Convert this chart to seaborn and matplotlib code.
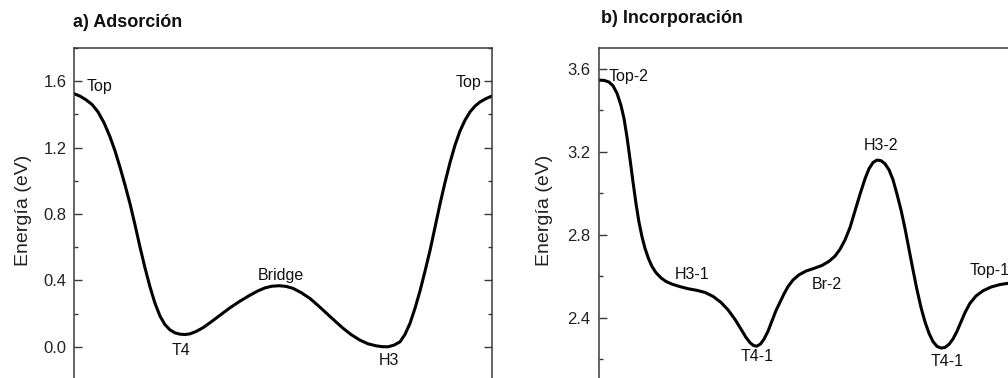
import matplotlib
matplotlib.use("Agg")
import matplotlib.pyplot as plt
from matplotlib.ticker import MultipleLocator, FormatStrFormatter
import seaborn as sns
import pandas as pd

# ---- Panel a) Adsorción: reaction coordinate (%) vs energy (eV) ----
ads_x = [0.0, 1.44, 2.87, 4.31, 5.75, 7.18, 8.62, 9.82, 11.01, 12.21,
         13.41, 14.60, 15.80, 17.00, 18.19, 19.39, 20.59, 21.79, 22.98,
         24.18, 25.38, 26.57, 27.77, 29.21, 30.88, 32.56, 34.95, 37.35,
         39.74, 42.14, 44.05, 45.73, 47.40, 49.08, 50.75, 52.43, 54.35,
         56.50, 58.42, 60.50, 62.49, 64.40, 66.32, 68.47, 70.39, 72.30,
         73.74, 75.17, 76.61, 78.05, 79.24, 80.44, 81.64, 82.83, 84.03,
         85.23, 86.43, 87.62, 88.82, 90.02, 91.22, 92.41, 93.61, 94.80,
         96.00, 97.20, 98.63, 100.0]
ads_e = [1.525, 1.510, 1.488, 1.460, 1.415, 1.350, 1.265, 1.180, 1.082, 0.975,
         0.862, 0.735, 0.601, 0.475, 0.361, 0.262, 0.185, 0.133, 0.102,
         0.084, 0.076, 0.074, 0.078, 0.092, 0.115, 0.145, 0.190, 0.235,
         0.275, 0.311, 0.337, 0.355, 0.365, 0.368, 0.364, 0.352, 0.327,
         0.291, 0.249, 0.201, 0.155, 0.112, 0.074, 0.040, 0.018, 0.006,
         0.001, 0.000, 0.010, 0.030, 0.075, 0.141, 0.232, 0.336, 0.455,
         0.580, 0.720, 0.860, 0.990, 1.110, 1.215, 1.300, 1.365, 1.415,
         1.450, 1.475, 1.495, 1.510]
ads_labels = ["Top", "T4", "Bridge", "H3", "Top"]
ads_lab_x = [3.1, 25.6, 49.5, 75.5, 97.6]
ads_lab_y = [1.57, -0.02, 0.431, -0.08, 1.59]
ads_lab_ha = ["left", "center", "center", "center", "right"]

# ---- Panel b) Incorporación ----
inc_x = [0.0, 1.27, 2.47, 3.42, 4.38, 5.34, 6.06, 6.78, 7.49, 8.21,
         8.93, 9.65, 10.37, 11.08, 11.92, 12.76, 13.72, 14.92, 16.11, 17.55,
         19.46, 21.38, 23.53, 25.45, 27.37, 29.28, 30.96, 32.63, 34.07, 35.27,
         36.22, 37.06, 37.90, 38.74, 39.58, 40.53, 41.49, 42.45, 43.41, 44.36,
         45.32, 46.52, 47.96, 49.63, 51.55, 53.46, 55.14, 56.57, 57.77, 58.97,
         60.17, 61.36, 62.56, 63.76, 64.71, 65.67, 66.63, 67.59, 68.54, 69.50,
         70.46, 71.42, 72.37, 73.33, 74.29, 75.25, 76.20, 77.16, 78.12, 79.08,
         80.04, 80.99, 81.95, 82.91, 83.87, 84.83, 85.78, 86.74, 87.70, 88.89,
         90.33, 92.01, 93.92, 96.08, 98.00, 100.0]
inc_e = [3.545, 3.544, 3.536, 3.518, 3.482, 3.423, 3.360, 3.270, 3.165, 3.055,
         2.950, 2.860, 2.790, 2.735, 2.685, 2.647, 2.617, 2.592, 2.575, 2.562,
         2.550, 2.540, 2.532, 2.522, 2.503, 2.474, 2.438, 2.392, 2.345, 2.305,
         2.280, 2.266, 2.263, 2.274, 2.297, 2.335, 2.385, 2.435, 2.475, 2.515,
         2.550, 2.582, 2.607, 2.625, 2.638, 2.652, 2.672, 2.697, 2.730, 2.775,
         2.835, 2.915, 2.995, 3.070, 3.118, 3.148, 3.160, 3.157, 3.142, 3.113,
         3.065, 2.995, 2.920, 2.830, 2.730, 2.630, 2.535, 2.450, 2.380, 2.325,
         2.285, 2.262, 2.254, 2.257, 2.272, 2.298, 2.335, 2.380, 2.425, 2.470,
         2.505, 2.530, 2.548, 2.560, 2.566, 2.570]
inc_labels = ["Top-2", "H3-1", "T4-1", "Br-2", "H3-2", "T4-1", "Top-1"]
inc_lab_x = [2.47, 22.46, 37.83, 54.7, 67.6, 83.3, 88.9]
inc_lab_y = [3.565, 2.608, 2.213, 2.559, 3.228, 2.191, 2.627]
inc_lab_ha = ["left", "center", "center", "center", "center", "center", "left"]

sns.set_style("ticks")
plt.rcParams["font.family"] = ["Liberation Sans", "DejaVu Sans"]

fig = plt.figure(figsize=(10.08, 3.78), dpi=100)

# axes frames run past the lower and right edges of the canvas
ax_a = fig.add_axes([74 / 1008, 1 - 380 / 378, 417.7 / 1008, 332 / 378])
ax_b = fig.add_axes([598.7 / 1008, 1 - 380 / 378, 417.7 / 1008, 332 / 378])

panels = [
    (ax_a, ads_x, ads_e, ads_labels, ads_lab_x, ads_lab_y, ads_lab_ha,
     (-0.2, 1.8), "a) Adsorción", 72.7, 26.7, -0.1005, 5.3),
    (ax_b, inc_x, inc_e, inc_labels, inc_lab_x, inc_lab_y, inc_lab_ha,
     (2.1, 3.7), "b) Incorporación", 600.7, 23.3, -0.1087, 6.3),
]

spine_color = "#3a3a3a"
for (ax, xs, es, labs, lx, ly, lha, ylim, title, tx, ty, ylab_x, pad) in panels:
    df = pd.DataFrame({"coord": xs, "energy": es})
    line = sns.lineplot(data=df, x="coord", y="energy", ax=ax, color="black",
                        linewidth=2.2, sort=False, estimator=None)
    for ln in ax.get_lines():
        ln.set_solid_joinstyle("round")
        ln.set_solid_capstyle("round")
    ax.set_xlim(0, 100)
    ax.set_ylim(*ylim)
    ax.yaxis.set_major_locator(MultipleLocator(0.4))
    ax.yaxis.set_minor_locator(MultipleLocator(0.2))
    ax.yaxis.set_major_formatter(FormatStrFormatter("%.1f"))
    ax.set_xticks([])
    ax.set_xlabel("")
    ax.tick_params(axis="y", which="major", direction="in", length=5.5,
                   width=1.0, color=spine_color, labelsize=12,
                   labelcolor="#222222", left=True, right=True, pad=pad)
    ax.tick_params(axis="y", which="minor", direction="in", length=3.0,
                   width=1.0, color=spine_color, left=True, right=True)
    for sp in ax.spines.values():
        sp.set_visible(True)
        sp.set_color(spine_color)
        sp.set_linewidth(1.1)
    ax.set_ylabel("Energía (eV)", fontsize=14, color="#222222")
    ax.yaxis.set_label_coords(ylab_x, 0.51)
    for t, x, y, ha in zip(labs, lx, ly, lha):
        ax.text(x, y, t, ha=ha, va="center", fontsize=11.5, color="#111111")
    fig.text(tx / 1008, 1 - ty / 378, title, ha="left", va="baseline",
             fontsize=13, fontweight="bold", color="#111111")

fig.savefig("out.png", dpi=100)
